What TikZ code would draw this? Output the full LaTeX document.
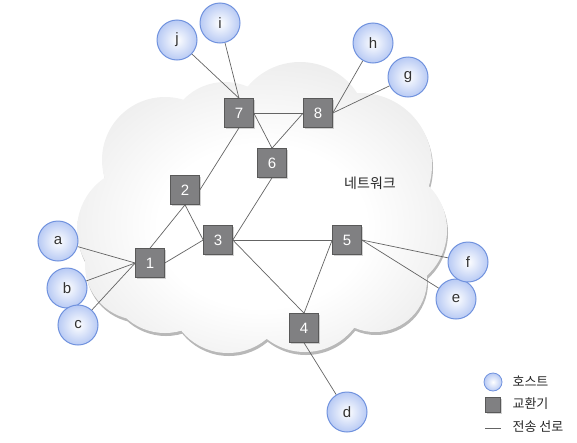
\documentclass[tikz,border=0pt]{standalone}
\usepackage{fontspec}
\setmainfont{Liberation Sans}
\newfontfamily\kr{Noto Sans CJK KR}
\usepackage{xcolor}
\usepackage{tikz}
\usetikzlibrary{shapes.geometric, shadows, calc}

\pgfdeclareradialshading{cloudshade}{\pgfpoint{0bp}{-4bp}}{color(0bp)=(white); color(14bp)=(white);
  color(30bp)=(black!8); color(42bp)=(black!16); color(50bp)=(black!25); color(70bp)=(black!25)}

\begin{document}
\begin{tikzpicture}[x=1pt,y=-1pt,
  host/.style={circle, draw=hostline, line width=1pt, inner color=white, outer color=hostfill,
    minimum size=40pt, inner sep=0pt, text=black!80, font=\fontsize{15}{15}\selectfont},
  switch/.style={rectangle, draw=black!65, line width=0.6pt, fill=switchgray, minimum size=29pt,
    inner sep=0pt, text=white, font=\fontsize{15}{15}\selectfont,
    drop shadow={opacity=0.35, shadow xshift=1.5pt, shadow yshift=-1.5pt}},
  link/.style={draw=linkgray, line width=0.7pt}]
\definecolor{hostline}{RGB}{112,146,222}
\definecolor{hostfill}{RGB}{184,202,244}
\definecolor{switchgray}{RGB}{128,128,130}
\definecolor{linkgray}{RGB}{100,100,100}

\useasboundingbox (0,0) rectangle (577,442);

% Cloud
\fill[black!28, shift={(1,3)}] (165,160) circle (63) (140,230) circle (63) (225,140) circle (58)
  (300,130) circle (68) (360,165) circle (72) (385,230) circle (62) (375,280) circle (52)
  (305,290) circle (62) (228,293) circle (60) (165,275) circle (58) (140,265) circle (55)
  (280,220) circle (95);
\shade[shading=cloudshade] (165,160) circle (63) (140,230) circle (63) (225,140) circle (58)
  (300,130) circle (68) (360,165) circle (72) (385,230) circle (62) (375,280) circle (52)
  (305,290) circle (62) (228,293) circle (60) (165,275) circle (58) (140,265) circle (55)
  (280,220) circle (95);
\node[font=\kr\fontsize{14}{14}\selectfont, text=black!85] (net) at (370,183) {네트워크};

% Switches
\node[switch] (s1) at (150,263) {1};
\node[switch] (s2) at (185,190) {2};
\node[switch] (s3) at (218,240) {3};
\node[switch] (s4) at (304,328) {4};
\node[switch] (s5) at (347,240) {5};
\node[switch] (s6) at (272,163) {6};
\node[switch] (s7) at (239,113) {7};
\node[switch] (s8) at (318,113) {8};

% Hosts
\node[host] (a) at (58,241) {a};
\node[host] (b) at (67,288) {b};
\node[host] (c) at (78,325) {c};
\node[host] (d) at (347,412) {d};
\node[host] (e) at (456,299) {e};
\node[host] (f) at (468,262) {f};
\node[host] (g) at (408,77) {g};
\node[host] (h) at (373,43) {h};
\node[host] (i) at (220,23) {i};
\node[host] (j) at (177,40) {j};

% Links
\foreach \u/\v in {a/s1.west, b/s1.west, c/s1.west, s1.north/s2.south, s1.east/s3.west,
  s2.south/s3.west, s2.east/s7.south, s7.east/s8.west, s7.east/s6.north, s8.west/s6.north,
  s3.east/s6.south, s3.east/s5.west, s3.east/s4.north, s4.north/s5.west, s4.south/d,
  s5.east/f, s5.east/e, s8.east/h, s8.east/g, s7.north/j, s7.north/i}
  \draw[link] (\u) -- (\v);

% Legend
\node[host, minimum size=18pt, line width=0.8pt] (lhost) at (493,382) {};
\node[switch, minimum size=15pt, drop shadow={opacity=0}] (lswitch) at (493,405) {};
\coordinate (lline1) at (485,428);
\coordinate (lline2) at (501,428);
\draw[link] (lline1) -- (lline2);
\node[anchor=west, font=\kr\fontsize{13}{13}\selectfont, text=black!85] (thost) at (509,381) {호스트};
\node[anchor=west, font=\kr\fontsize{13}{13}\selectfont, text=black!85] (tswitch) at (509,404) {교환기};
\node[anchor=west, font=\kr\fontsize{13}{13}\selectfont, text=black!85] (tline) at (509,427) {전송 선로};

\end{tikzpicture}
\end{document}
